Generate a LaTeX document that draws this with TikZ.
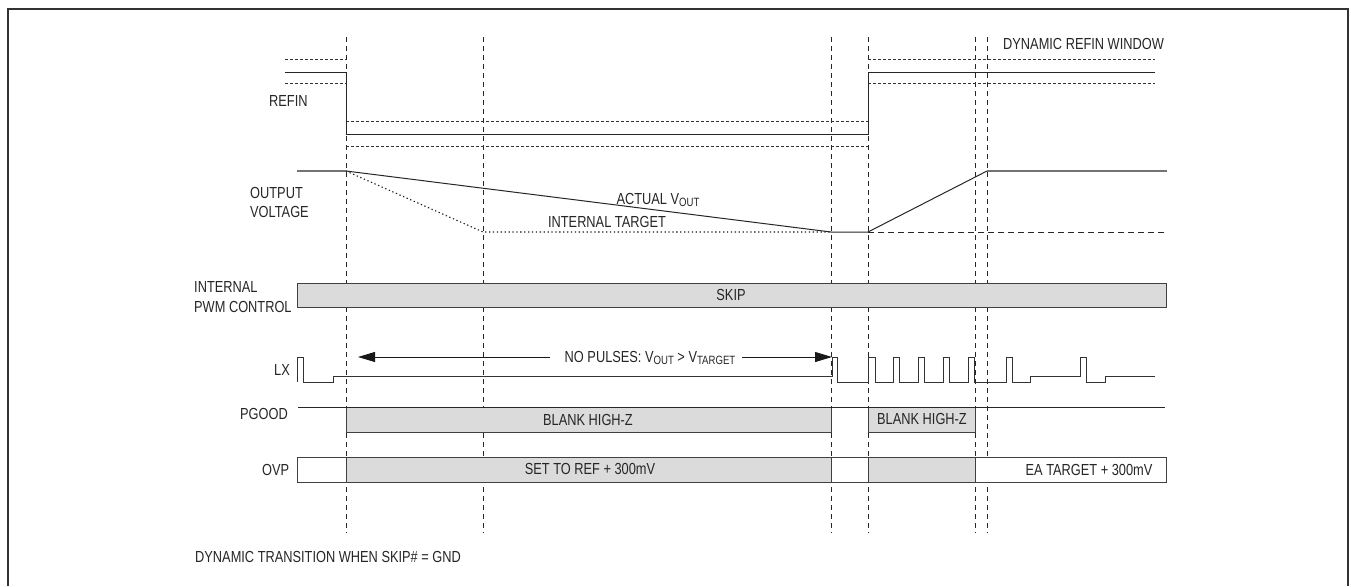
\documentclass[tikz,border=0pt]{standalone}
\usepackage{fontspec}
\setmainfont{Liberation Sans}[FakeStretch=0.8]
\usetikzlibrary{arrows.meta}
\newcommand{\subtxt}[1]{\raisebox{-0.3ex}{\fontsize{12}{12}\selectfont #1}}
\begin{document}
\begin{tikzpicture}[x=1pt,y=-1pt,
  lbl/.style={inner sep=0pt, font=\fontsize{16}{19}\selectfont, text=black!85},
  lblw/.style={lbl, anchor=west},
  vguide/.style={draw=black!85, line width=0.9pt, dash pattern=on 5pt off 4pt},
  win/.style={draw=black!80, line width=0.8pt, dash pattern=on 3pt off 2pt},
  sig/.style={draw=black!85, line width=1pt},
  flat/.style={draw=black!55, line width=1.5pt},
  dotl/.style={draw=black!90, line width=1.1pt, dash pattern=on 1.3pt off 2.6pt},
  dashl/.style={draw=black!85, line width=0.9pt, dash pattern=on 6pt off 4pt},
  bar/.style={draw=black!75, line width=0.9pt, fill=black!14},
  wbar/.style={draw=black!75, line width=0.9pt, fill=white},
  arr/.style={draw=black!90, line width=0.9pt, -{Triangle[length=17pt,width=10pt]}},
  lxsig/.style={draw=black!80, line width=1pt, line join=miter}
]
\useasboundingbox (0,0) rectangle (1351,586);
% frame
\draw[black!80, line width=1.5pt] (8,586) -- (8,9) -- (1348,9) -- (1348,586);

% vertical guides
\foreach \x in {346,483,831,868,975,987}
  \draw[vguide] (\x,37) -- (\x,533);

% REFIN
\draw[win] (285,59) -- (346,59);
\draw[win] (285,83) -- (346,83);
\draw[win] (346,121) -- (868,121);
\draw[win] (346,146) -- (868,146);
\draw[win] (868,59) -- (1155,59);
\draw[win] (868,83) -- (1155,83);
\draw[sig] (285,72) -- (346,72) -- (346,134) -- (868,134) -- (868,72) -- (1155,72);
\node[lblw] (refin) at (269,101) {REFIN};
\node[lblw] (window) at (1003,44) {DYNAMIC REFIN WINDOW};

% OUTPUT VOLTAGE
\draw[flat] (297,171) -- (346,171);
\draw[dotl] (346,171) -- (483,232) -- (831,232);
\draw[dashl] (868,232) -- (1167,232);
\draw[sig] (346,171) -- (831,232) -- (868,232) -- (987,171);
\draw[flat] (987,171) -- (1167,171);
\node[lblw] (out1) at (250,193) {OUTPUT};
\node[lblw] (out2) at (250,212) {VOLTAGE};
\node[lbl] (actual) at (658,200) {ACTUAL V\subtxt{OUT}};
\node[lbl] (target) at (607,222) {INTERNAL TARGET};

% INTERNAL PWM CONTROL
\draw[bar] (297,283) rectangle (1166,307);
\node[lbl] (skip) at (731,295) {SKIP};
\node[lblw] (pwm1) at (194,287) {INTERNAL};
\node[lblw] (pwm2) at (194,307) {PWM CONTROL};

% LX
\draw[lxsig] (297,382) -- (297,357) -- (303,357) -- (303,382) -- (333,382) -- (333,376)
  -- (832,376) -- (832,357) -- (837,357) -- (837,382) -- (868,382) -- (868,357)
  -- (875,357) -- (875,382) -- (893,382) -- (893,357) -- (899,357) -- (899,382)
  -- (918,382) -- (918,357) -- (924,357) -- (924,382) -- (943,382) -- (943,357)
  -- (949,357) -- (949,382) -- (968,382) -- (968,357) -- (974,357) -- (974,382)
  -- (1006,382) -- (1006,357) -- (1012,357) -- (1012,382) -- (1030,382) -- (1030,376)
  -- (1080,376) -- (1080,357) -- (1086,357) -- (1086,382) -- (1105,382) -- (1105,376)
  -- (1155,376);
\node[lblw] (lx) at (274,370) {LX};
\node[lbl] (np) at (650,358) {NO PULSES: V\subtxt{OUT} > V\subtxt{TARGET}};
\coordinate (aL) at (358,357);
\coordinate (aR) at (832,357);
\draw[arr] ([xshift=-15pt]np.west |- aL) -- (aL);
\draw[arr] ([xshift=7pt]np.east |- aR) -- (aR);

% PGOOD
\draw[bar] (346,407) rectangle (831,432);
\draw[bar] (868,407) rectangle (975,432);
\draw[sig] (298,407) -- (1165,407);
\node[lbl] (bl1) at (588,420) {BLANK HIGH-Z};
\node[lbl] (bl2) at (922,419) {BLANK HIGH-Z};
\node[lblw] (pgood) at (240,414) {PGOOD};

% OVP
\draw[wbar] (297,457) rectangle (1166,482);
\draw[bar] (346,457) rectangle (831,482);
\draw[bar] (868,457) rectangle (975,482);
\node[lbl] (set) at (590,469) {SET TO REF + 300mV};
\node[lbl] (ea) at (1089,470) {EA TARGET + 300mV};
\node[lblw] (ovp) at (262,470) {OVP};

% caption
\node[lblw] (cap) at (195,557) {DYNAMIC TRANSITION WHEN SKIP\# = GND};
\end{tikzpicture}
\end{document}
